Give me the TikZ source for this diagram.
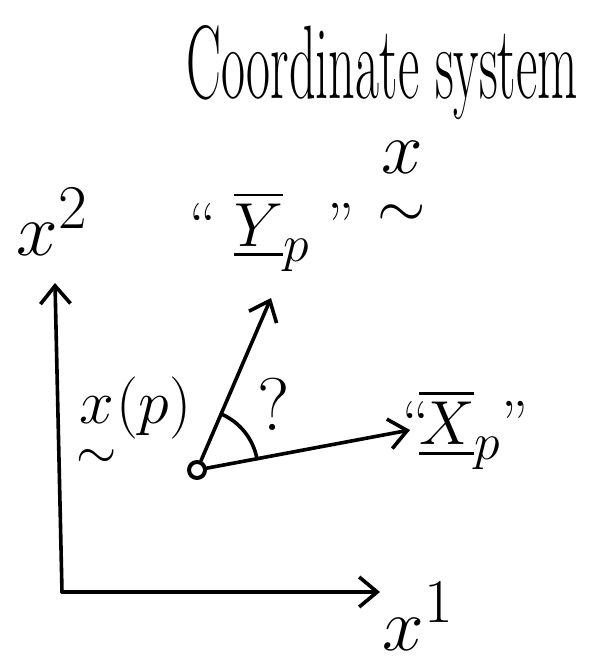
\documentclass[tikz,border=0pt]{standalone}
\usepackage{amsmath,amssymb}
\usepackage{tikz}
\usetikzlibrary{arrows.meta,positioning}

\begin{document}
\begin{tikzpicture}[
  x=0.5pt, y=0.5pt,
  lbl/.style={inner sep=0pt, font=\Huge, scale=1.5},
  sml/.style={inner sep=0pt, font=\Huge, scale=1.25},
  ttl/.style={inner sep=0pt, font=\Huge, xscale=1.05, yscale=2.1},
  arr/.style={-{Straight Barb[length=9pt,width=15pt]}, line width=1.8pt},
  dot/.style={circle, draw, line width=2pt, inner sep=0pt, minimum size=8pt},
  line cap=round, line join=round
]
\useasboundingbox (0,0) rectangle (611,666);
\node[ttl, anchor=base west] (title) at (186,568) {Coordinate system};
\node[lbl, anchor=base west] (xtwo) at (16,410) {$x^2$};
\node[sml, anchor=base] (ylbl) at (272,420) {``\;$\overline{\underline{Y}}_p$\;''};
\node[lbl] (xvec) at (402,478) {$\underset{\raisebox{-3pt}{$\scriptstyle\sim$}}{x}$};
\node[lbl, anchor=base west] (xone) at (382,16) {$x^1$};
\node[dot] (p) at (197,196) {};
\coordinate (O) at (62,74);
\coordinate (e1) at (380,74);
\coordinate (e2) at (55,383);
\coordinate (ytip) at (271,368);
\coordinate (xtip) at (410,236);
\draw[arr] (O) -- (e1);
\draw[arr] (O) -- (e2);
\draw[arr] (p) -- (ytip);
\draw[arr] (p) -- (xtip);
\draw[line width=1.8pt] (p.center) ++(66.7:61) arc[start angle=66.7, end angle=10.6, radius=61];
\node[sml] (xplbl) at (134,240) {$\underset{\raisebox{-3pt}{$\scriptstyle\sim$}}{x}(p)$};
\node[lbl] (ang) at (274,262) {?};
\node[sml, right=-4pt of xtip] (xlbl) {``\!$\overline{\underline{X}}_p$''};
\end{tikzpicture}
\end{document}
